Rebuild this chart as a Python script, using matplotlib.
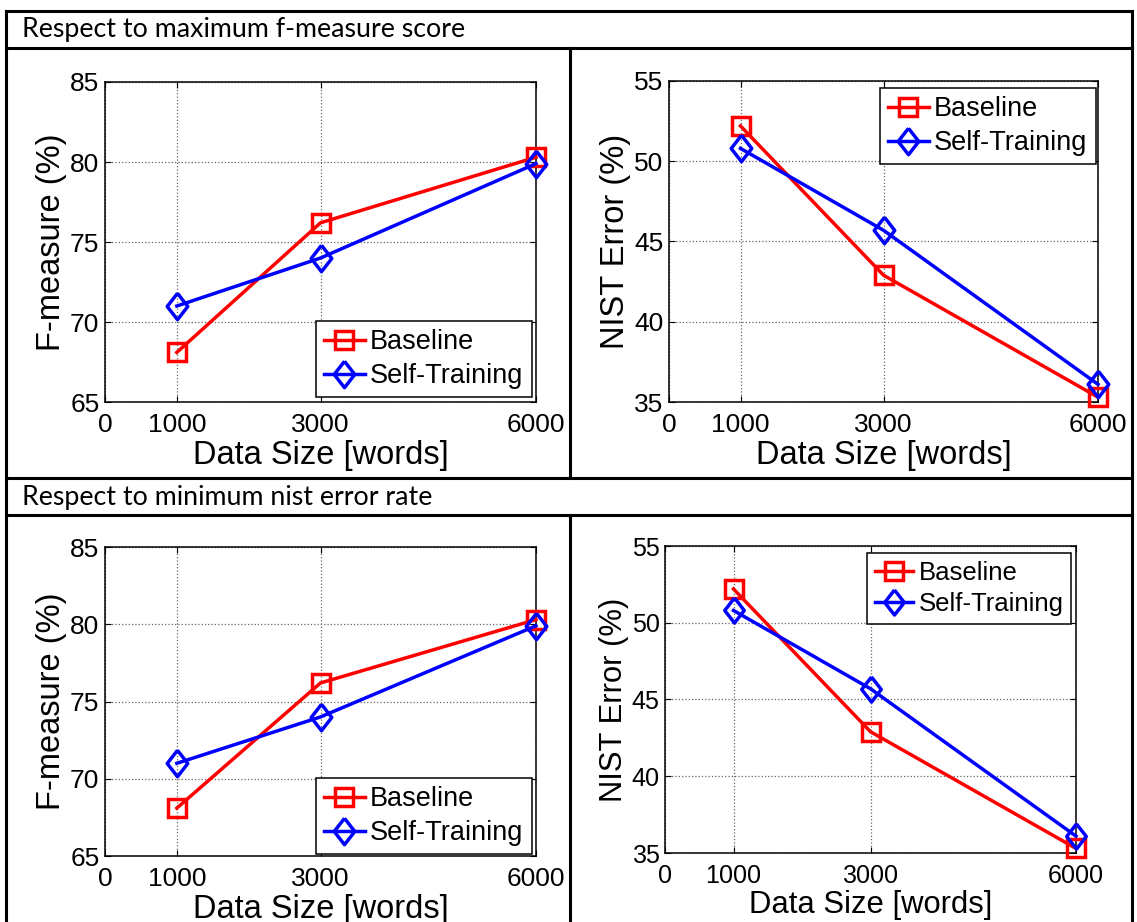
import matplotlib.pyplot as plt
from matplotlib.lines import Line2D

# data (same values in both rows)
sizes = [1000, 3000, 6000]
fm_baseline = [68.1, 76.2, 80.3]
fm_self = [71.0, 74.0, 79.9]
nist_baseline = [52.2, 42.9, 35.3]
nist_self = [50.8, 45.7, 36.1]
xticks = [0, 1000, 3000, 6000]
headers = ['Respect to maximum f-measure score', 'Respect to minimum nist error rate']

W, H = 1137, 922
fig = plt.figure(figsize=(W / 100, H / 100), dpi=100)
plt.rcParams['font.family'] = ['Liberation Sans', 'DejaVu Sans']

# MATLAB-like diamond, taller than wide
diamond = [(0, 1), (0.78, 0), (0, -1), (-0.78, 0), (0, 1)]


def px_rect(left, top, right, bottom):
    return [left / W, 1 - bottom / H, (right - left) / W, (bottom - top) / H]


def hline(y, x0, x1):
    fig.add_artist(Line2D([x0 / W, x1 / W], [1 - y / H, 1 - y / H], color='black', lw=2.2))


def vline(x, y0, y1):
    fig.add_artist(Line2D([x / W, x / W], [1 - y0 / H, 1 - y1 / H], color='black', lw=2.2))


# table borders
hline(11, 5.5, 1132)
hline(47.7, 5.5, 1132)
hline(477.7, 5.5, 1132)
hline(515, 5.5, 1132)
vline(5.5, 11, 923)
vline(1131.5, 11, 923)
vline(570, 47.7, 477.7)
vline(570, 515, 923)

fig.text(22 / W, 1 - 30 / H, headers[0], family='Lato', fontsize=19.3, va='center', ha='left')
fig.text(22 / W, 1 - 497 / H, headers[1], family='Lato', fontsize=19.3, va='center', ha='left')


def draw(rect, base, selft, ylim, ylabel, leg_box, k=1.0):
    ax = fig.add_axes(px_rect(*rect))
    ax.plot(sizes, base, color='red', lw=2.5, marker='s', ms=13 * k, mfc='none', mew=2.5,
            label='Baseline', clip_on=False, zorder=3)
    ax.plot(sizes, selft, color='blue', lw=2.5, marker=diamond, ms=19 * k, mfc='none', mew=2.5,
            label='Self-Training', clip_on=False, zorder=4)
    ax.set_xlim(0, 6000)
    ax.set_ylim(*ylim)
    ax.set_xticks(xticks)
    ax.set_yticks(range(ylim[0], ylim[1] + 1, 5))
    ax.tick_params(direction='in', top=True, right=True, length=4, labelsize=19 * k, pad=4)
    ax.tick_params(axis='x', pad=8 * k)
    ax.grid(True, color='0.4', linestyle=':', linewidth=0.9)
    for s in ax.spines.values():
        s.set_linewidth(1.1)
    ax.set_xlabel('Data Size [words]', fontsize=23.5 * k, labelpad=2)
    ax.set_ylabel(ylabel, fontsize=23.5 * k, labelpad=2)
    l, t, r, b = leg_box
    leg = ax.legend(loc='upper left', bbox_to_anchor=(l / W, 1 - t / H), bbox_transform=fig.transFigure,
                    fontsize=19.5 * k, numpoints=1, handlelength=1.5, handletextpad=0.2,
                    borderpad=0.3, labelspacing=0.3, borderaxespad=0, fancybox=False,
                    framealpha=1)
    leg.get_frame().set_edgecolor('black')
    leg.get_frame().set_linewidth(1.1)
    return ax


draw((105, 82, 536, 402), fm_baseline, fm_self, (65, 85), 'F-measure (%)', (316, 321, 530, 396))
draw((669, 81, 1098, 402), nist_baseline, nist_self, (35, 55), 'NIST Error (%)', (880, 88, 1094, 163))
draw((105, 547, 536, 856), fm_baseline, fm_self, (65, 85), 'F-measure (%)', (316, 778, 530, 850))
draw((665, 546, 1076, 853), nist_baseline, nist_self, (35, 55), 'NIST Error (%)', (867, 553, 1072, 625), k=0.95)

fig.savefig('out.png', dpi=100)
